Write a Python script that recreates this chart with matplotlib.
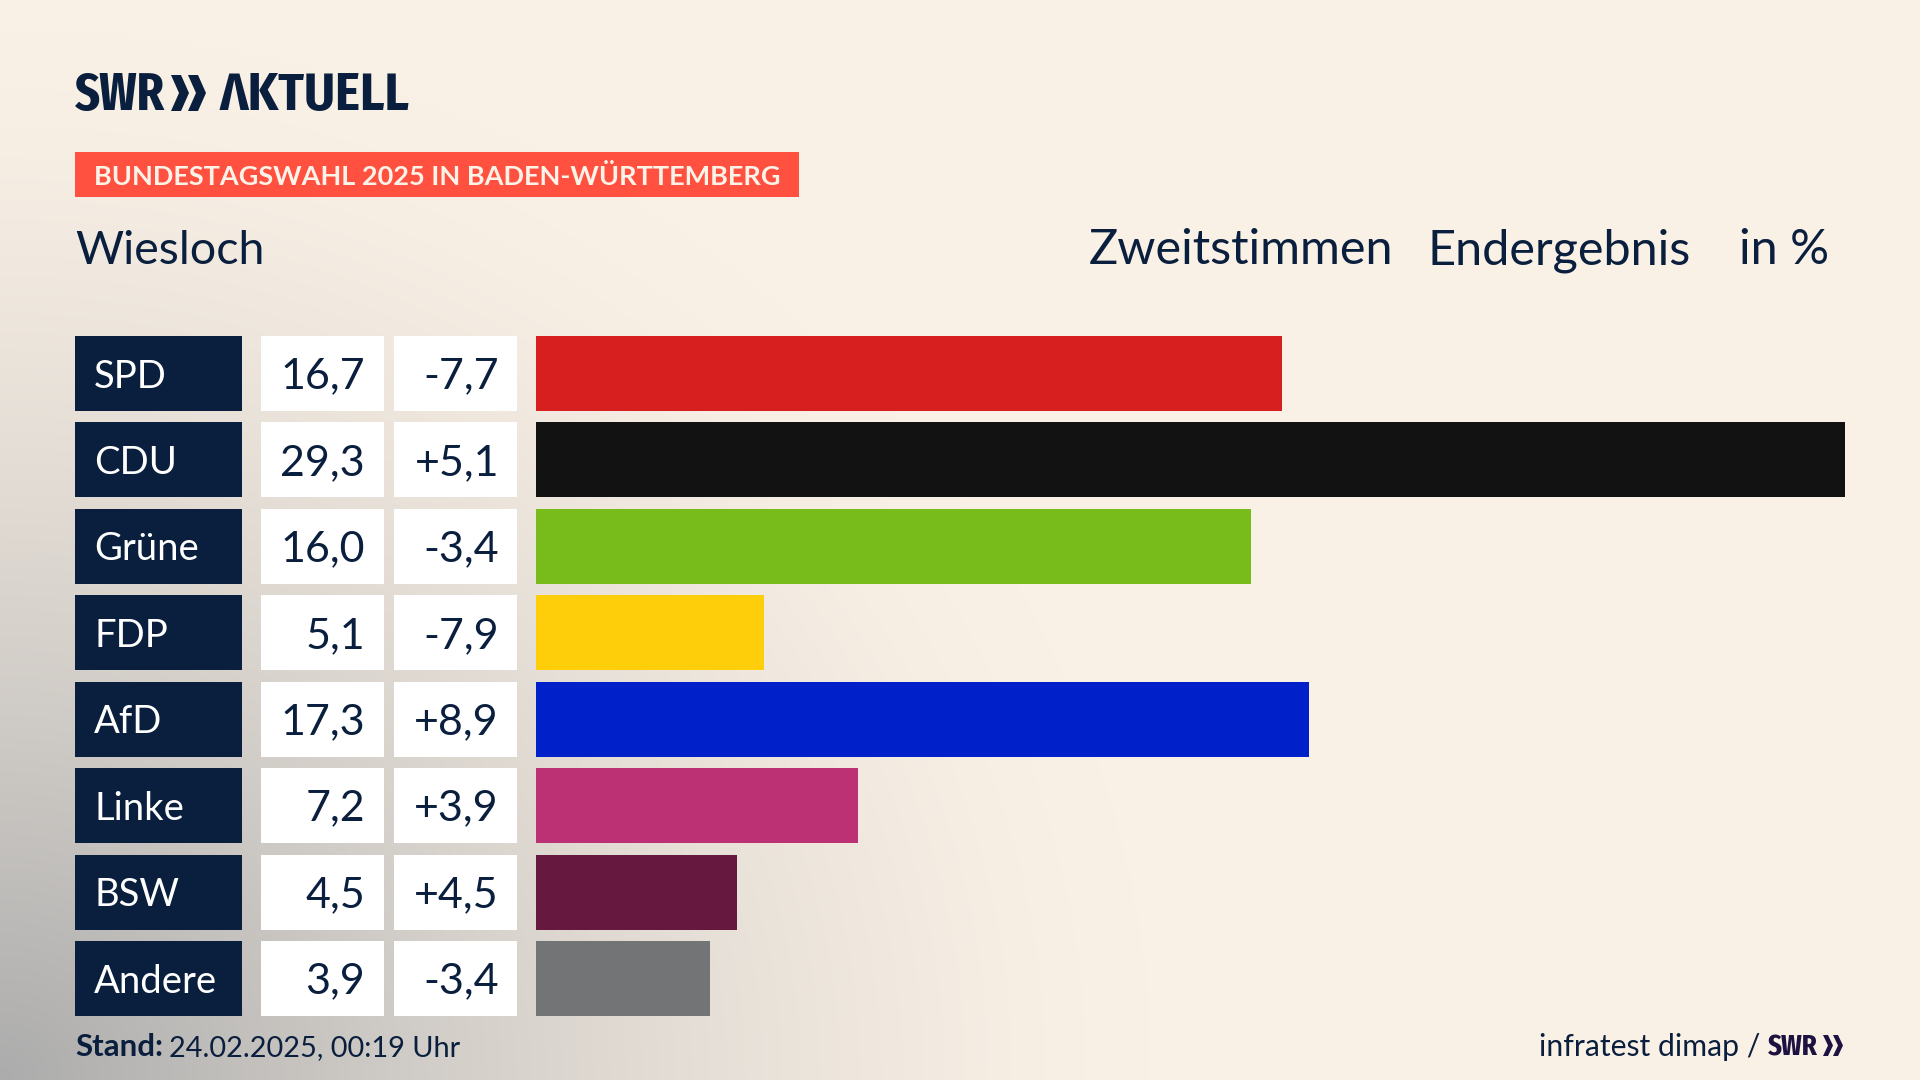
import numpy as np
import matplotlib
matplotlib.use("Agg")
import matplotlib.pyplot as plt
import matplotlib.font_manager as fm
from matplotlib.patches import Rectangle, Polygon

parties = ["SPD", "CDU", "Grüne", "FDP", "AfD", "Linke", "BSW", "Andere"]
shares = [16.7, 29.3, 16.0, 5.1, 17.3, 7.2, 4.5, 3.9]
changes = [-7.7, 5.1, -3.4, -7.9, 8.9, 3.9, 4.5, -3.4]
colors = ["#D71F1F", "#121212", "#78BC1B", "#FFCE0A", "#0021C9", "#BC3174", "#67183E", "#737476"]
NAVY = "#0A1F3E"

installed = {f.name for f in fm.fontManager.ttflist}


def pick(*cands):
    for c in cands:
        if c in installed:
            return c
    return "Lato"


FONT = "Lato"
XCOND = pick("Fira Sans Extra Condensed", "Lato")
COND = pick("Fira Sans Condensed", "Lato")

W, H = 1920, 1080
fig = plt.figure(figsize=(19.2, 10.8), dpi=100)

# background
bg = fig.add_axes([0, 0, 1, 1], zorder=0)
bg.axis("off")
yy, xx = np.mgrid[0:H:270j, 0:W:480j]
d = np.sqrt((xx / 1150) ** 2 + ((H - yy) / 1050) ** 2)
t = np.clip(1 - d, 0, 1) ** 1.4
base = np.array([250, 241, 230]) / 255
corner = np.array([172, 172, 172]) / 255
img = base[None, None, :] * (1 - t[..., None]) + corner[None, None, :] * t[..., None]
bg.imshow(img, extent=[0, W, H, 0], aspect="auto", interpolation="bilinear")

# pixel overlay
ov = fig.add_axes([0, 0, 1, 1], zorder=2)
ov.set_xlim(0, W)
ov.set_ylim(H, 0)
ov.axis("off")

ROW_TOP, PITCH, ROW_H = 336, 86.43, 75

# bars
ax = fig.add_axes([536 / W, 1 - 1016 / H, 1309 / W, 680 / H], zorder=1)
ax.barh(range(len(shares)), shares, height=ROW_H / PITCH, color=colors)
ax.set_xlim(0, 29.3)
ax.set_ylim(7 + ROW_H / PITCH / 2, -ROW_H / PITCH / 2)
ax.axis("off")


def fmt(v, sign=False):
    s = f"{abs(v):.1f}".replace(".", ",")
    if sign:
        s = ("+" if v > 0 else "-") + s
    return s


for i, (p, s, c) in enumerate(zip(parties, shares, changes)):
    top = ROW_TOP + i * PITCH
    mid = top + ROW_H / 2
    ov.add_patch(Rectangle((75, top), 167, ROW_H, color=NAVY, lw=0))
    ov.add_patch(Rectangle((261, top), 123, ROW_H, color="white", lw=0))
    ov.add_patch(Rectangle((394, top), 123, ROW_H, color="white", lw=0))
    ov.text(94, mid + 14, p, color="white", fontsize=27.5, family=FONT, va="baseline", ha="left")
    ov.text(365, mid + 15, fmt(s), color=NAVY, fontsize=31, family=FONT, va="baseline", ha="right")
    ov.text(499, mid + 15, fmt(c, True), color=NAVY, fontsize=31, family=FONT, va="baseline", ha="right")


def chevrons(x, y0, y1, w, gap, tip, color):
    m = (y0 + y1) / 2
    for k in range(2):
        xs = x + k * gap
        ov.add_patch(Polygon([(xs, y0), (xs + w, y0), (xs + w + tip, m), (xs + w, y1), (xs, y1), (xs + tip, m)],
                             closed=True, color=color, lw=0))


# logo
ov.text(75, 110, "SWR", color=NAVY, fontsize=38, family=XCOND, weight="bold", va="baseline", ha="left")
chevrons(171, 75, 111, 10, 17, 8, NAVY)
ov.text(220, 110, "ΛKTUELL", color=NAVY, fontsize=38, family=COND, weight="bold", va="baseline", ha="left")

# banner
ov.add_patch(Rectangle((75, 152), 724, 45, color="#FF5040", lw=0))
ov.text(94, 185, "BUNDESTAGSWAHL 2025 IN BADEN-WÜRTTEMBERG", color="#FBF3E8", fontsize=19.5,
        family=FONT, weight="bold", va="baseline", ha="left")

# headers
ov.text(75, 264.5, "Wiesloch", color=NAVY, fontsize=33.5, family=FONT, va="baseline", ha="left")
for x, s in [(1089, "Zweitstimmen"), (1428, "Endergebnis"), (1739, "in %")]:
    ov.text(x, 264.5, s, color=NAVY, fontsize=35, family=FONT, va="baseline", ha="left")

# footer
ov.text(75, 1056, "Stand:", color=NAVY, fontsize=22.5, family=FONT, weight="bold", va="baseline", ha="left")
ov.text(169, 1056, "24.02.2025, 00:19 Uhr", color=NAVY, fontsize=20.8, family=FONT, va="baseline", ha="left")
ov.text(1539, 1056, "infratest dimap /", color=NAVY, fontsize=21.7, family=FONT, va="baseline", ha="left")
PURPLE = "#1E1240"
ov.text(1768, 1056, "SWR", color=PURPLE, fontsize=21, family=XCOND, weight="bold", va="baseline", ha="left")
chevrons(1823, 1035, 1056, 5, 10, 5, PURPLE)

fig.savefig("out.png", dpi=100)
